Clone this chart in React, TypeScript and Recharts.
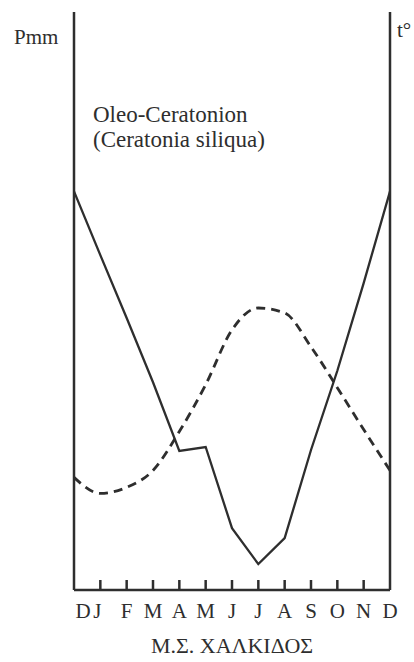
import * as React from "react";
import { LineChart, Line, XAxis, YAxis } from "recharts";

// ombrothermic diagram, Chalkida station (scanned book figure)
const months = ["D", "J", "F", "M", "A", "M", "J", "J", "A", "S", "O", "N", "D"];
const precipitation = [80, 67.2, 54.6, 41.7, 27.9, 28.7, 12.4, 5.2, 10.4, 28.1, 44, 61.6, 80];
const temperature = [11.3, 9.7, 10.3, 12.0, 15.9, 20.6, 26.1, 28.3, 27.8, 24.4, 20.3, 16.1, 12.0];

const data = months.map((m, i) => ({
  key: `${m}${i}`,
  label: m,
  p: precipitation[i],
  t: temperature[i],
}));

const INK = "#2e2e2e";
const FONT = "Liberation Serif";

function MonthTick(props: any) {
  const { x, y, payload } = props;
  const i = payload.index as number;
  const last = months.length - 1;
  // the first two letters sit a little off their ticks in the print
  const dx = i === 0 ? 9 : i === 1 ? -3 : 0;
  return (
    <g>
      {i > 0 && i < last && (
        <line x1={x} x2={x} y1={y - 10} y2={y} stroke={INK} strokeWidth={2.5} />
      )}
      <text
        x={x + dx}
        y={y + 28}
        textAnchor="middle"
        style={{ fontFamily: FONT, fontSize: 21 }}
        fill={INK}
      >
        {months[i]}
      </text>
    </g>
  );
}

const axisStyle = { stroke: INK, strokeWidth: 2.5 };

export default function App() {
  return (
    <div style={{ position: "absolute", left: 0, top: 0, width: 414, height: 662, background: "#fff" }}>
      <LineChart width={414} height={662} data={data} margin={{ top: 12, right: 23, bottom: 42, left: 73 }}>
        <XAxis
          dataKey="key"
          height={30}
          tickSize={0}
          tickMargin={0}
          interval={0}
          tick={<MonthTick />}
          axisLine={axisStyle}
        />
        <YAxis yAxisId="p" orientation="left" width={1} domain={[0, 116]} tick={false} tickLine={false} axisLine={axisStyle} />
        <YAxis yAxisId="t" orientation="right" width={1} domain={[0, 58]} tick={false} tickLine={false} axisLine={axisStyle} />
        <Line yAxisId="t" type="monotone" dataKey="t" stroke={INK} strokeWidth={2.8} strokeDasharray="9 6" dot={false} isAnimationActive={false} />
        <Line yAxisId="p" type="linear" dataKey="p" stroke={INK} strokeWidth={2.3} dot={false} isAnimationActive={false} />
      </LineChart>
      <svg width={414} height={662} style={{ position: "absolute", left: 0, top: 0, pointerEvents: "none" }}>
        <g style={{ fontFamily: FONT }} fill={INK}>
          <text x={14} y={44} fontSize={21}>Pmm</text>
          <text x={397} y={37} fontSize={21}>t°</text>
          <text x={93} y={122} fontSize={23}>Oleo-Ceratonion</text>
          <text x={93} y={147} fontSize={23}>(Ceratonia siliqua)</text>
          <text x={232} y={653} fontSize={22} textAnchor="middle">Μ.Σ. ΧΑΛΚΙΔΟΣ</text>
        </g>
      </svg>
    </div>
  );
}
